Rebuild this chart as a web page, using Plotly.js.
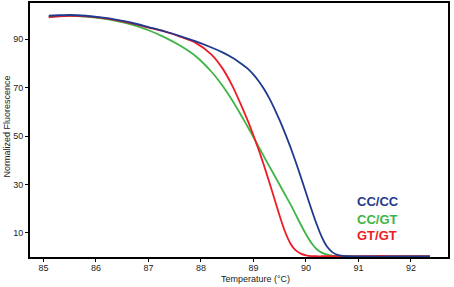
<!DOCTYPE html>
<html>
<head>
<meta charset="utf-8">
<script src="https://cdn.plot.ly/plotly-3.0.1.min.js"></script>
<style>
html,body{margin:0;padding:0;background:#fff;}
#chart{width:454px;height:287px;}
</style>
</head>
<body>
<div id="chart"></div>
<script>
var temperature = [85.1, 85.3, 85.5, 85.8, 86.1, 86.4, 86.7, 87.0, 87.3, 87.6, 87.9, 88.2, 88.4, 88.6, 88.8, 88.9, 89.0, 89.1, 89.2, 89.3, 89.4, 89.5, 89.6, 89.7, 89.8, 89.9, 90.0, 90.1, 90.2, 90.3, 90.4, 90.5, 90.6, 90.7, 90.8, 91.0, 91.3, 91.6, 92.0, 92.36];

var ccccValues = [99.6, 99.8, 99.9, 99.6, 98.9, 97.9, 96.6, 94.9, 93.2, 91.2, 89.0, 86.5, 84.6, 82.3, 79.3, 77.6, 75.3, 72.6, 69.4, 65.6, 61.2, 56.4, 51.2, 45.6, 39.6, 33.2, 26.6, 20.0, 13.8, 8.4, 4.4, 2.1, 1.0, 0.6, 0.45, 0.35, 0.3, 0.3, 0.3, 0.3];

var ccgtValues = [99.0, 99.4, 99.5, 99.2, 98.5, 97.4, 95.8, 93.6, 90.8, 87.3, 82.9, 76.5, 71.0, 64.5, 57.2, 53.4, 49.5, 45.5, 41.5, 37.6, 33.7, 29.8, 25.9, 22.0, 17.8, 13.5, 9.5, 6.0, 3.4, 1.9, 1.1, 0.7, 0.5, 0.4, 0.35, 0.3, 0.3, 0.3, 0.3, 0.3];

var gtgtValues = [98.9, 99.3, 99.5, 99.3, 98.7, 97.7, 96.3, 94.7, 93.1, 91.0, 88.4, 83.6, 78.2, 70.6, 61.0, 55.8, 50.2, 44.2, 37.8, 31.0, 24.0, 17.0, 10.6, 5.8, 2.9, 1.5, 0.8, 0.5, 0.4, 0.4, 0.4, 0.4, 0.4, 0.4, 0.4, 0.4, 0.5, 0.5, 0.4, 0.4];

var seriesNames = ["CC/CC", "CC/GT", "GT/GT"];
var seriesColors = ["#1f3a8f", "#3fb447", "#ee1c25"];
var xTicks = [85, 86, 87, 88, 89, 90, 91, 92];
var yTicks = [10, 30, 50, 70, 90];
var xTitle = "Temperature (°C)";
var yTitle = "Normalized Fluorescence";

var seriesValues = [ccccValues, ccgtValues, gtgtValues];
var drawOrder = [1, 2, 0];
var traces = drawOrder.map(function (i) {
  return {
    x: temperature,
    y: seriesValues[i],
    type: "scatter",
    mode: "lines",
    name: seriesNames[i],
    line: {color: seriesColors[i], width: 1.8, shape: "spline", smoothing: 0.7},
    hoverinfo: "skip"
  };
});

var legendY = [22.8, 15.6, 8.9];
var annotations = seriesNames.map(function (n, i) {
  return {
    x: 90.93, y: legendY[i], xref: "x", yref: "y",
    xanchor: "left", yanchor: "middle", showarrow: false,
    text: "<b>" + n + "</b>",
    font: {family: "Arial, 'Liberation Sans', sans-serif", size: 13, color: seriesColors[i]}
  };
});
annotations.push({
  x: 0.5395, y: -0.088, xref: "paper", yref: "paper",
  xanchor: "center", yanchor: "middle", showarrow: false,
  text: xTitle,
  font: {family: "Arial, 'Liberation Sans', sans-serif", size: 9, color: "#222"}
});
annotations.push({
  x: -0.055, y: 0.514, xref: "paper", yref: "paper",
  xanchor: "center", yanchor: "middle", showarrow: false, textangle: -90,
  text: yTitle,
  font: {family: "Arial, 'Liberation Sans', sans-serif", size: 9, color: "#222"}
});

var axisCommon = {
  showgrid: false, zeroline: false, showline: true, linecolor: "#000", linewidth: 2,
  mirror: true, ticks: "outside", ticklen: 3, tickwidth: 1, tickcolor: "#000",
  tickfont: {family: "Arial, 'Liberation Sans', sans-serif", size: 9, color: "#222"}
};

var layout = {
  width: 454, height: 287,
  margin: {l: 30, r: 6, t: 3, b: 30, pad: 0},
  paper_bgcolor: "#fff", plot_bgcolor: "#fff",
  showlegend: false,
  xaxis: Object.assign({}, axisCommon, {range: [84.743, 92.705], tickvals: xTicks, ticktext: xTicks.map(String), ticklabelstandoff: -2}),
  yaxis: Object.assign({}, axisCommon, {range: [0.1, 104.85], tickvals: yTicks, ticktext: yTicks.map(String)}),
  annotations: annotations
};

Plotly.newPlot("chart", traces, layout, {staticPlot: true, displayModeBar: false});
</script>
</body>
</html>
